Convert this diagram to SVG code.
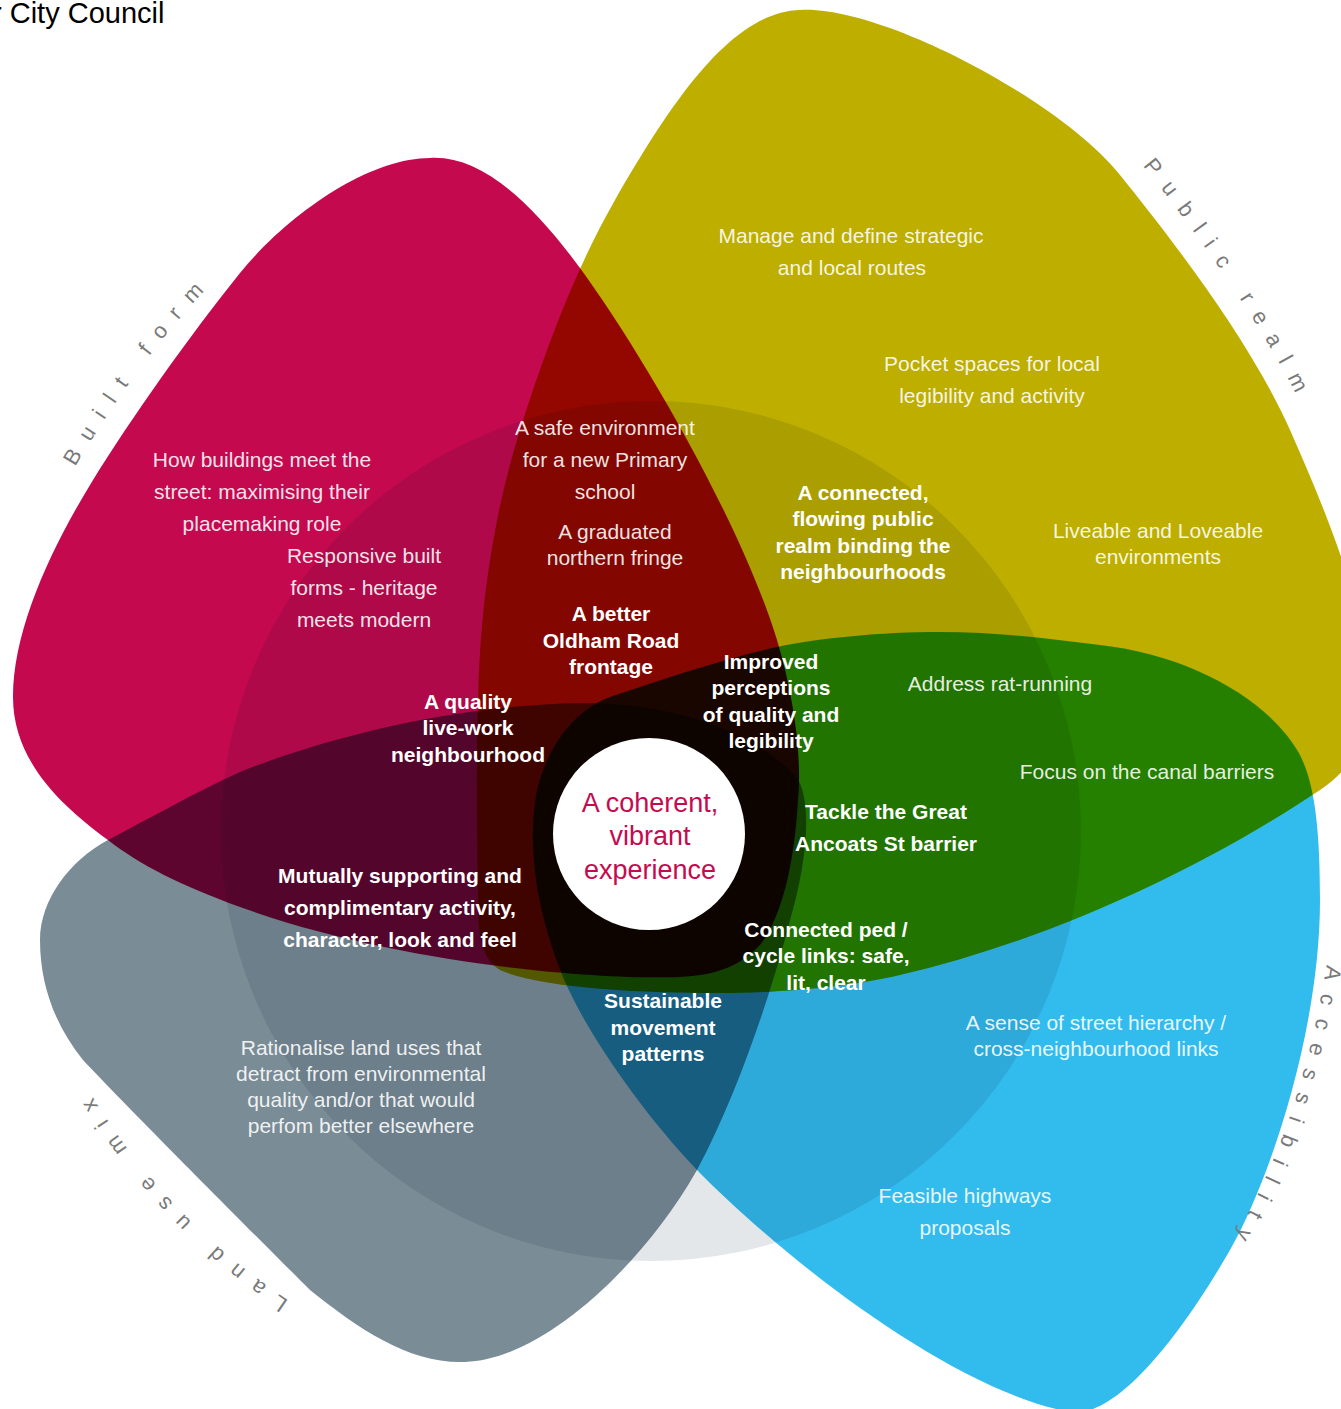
<svg xmlns="http://www.w3.org/2000/svg" width="1341" height="1409" viewBox="0 0 1341 1409">
<style>
.petal{mix-blend-mode:multiply}
.lt{font-family:"Liberation Sans",Arial,sans-serif;font-size:21px;fill:#fff;fill-opacity:0.9;text-anchor:middle}
.bd{font-family:"Liberation Sans",Arial,sans-serif;font-size:21px;font-weight:bold;fill:#fff;text-anchor:middle}
.arc{font-family:"Liberation Sans",Arial,sans-serif;font-size:22px;fill:#7a7a7a;letter-spacing:14px}
.ctr{font-family:"Liberation Sans",Arial,sans-serif;font-size:27px;fill:#C60A50;text-anchor:middle}
</style>
<defs>
<path id="pBuilt" d="M78,462 Q140,358 210,285"/>
<path id="pPublic" d="M1144,167 Q1247,296 1301,404"/>
<path id="pAccess" d="M1326,968 Q1300,1130 1230,1245"/>
<path id="pLand" d="M288,1300 Q165,1219 86,1086"/>
</defs>
<rect width="1341" height="1409" fill="#fff"/>
<g id="shapes" style="isolation:isolate">
<rect width="1341" height="1409" fill="#fff"/>
<g id="built-form">
<path class="petal" fill="#C5094F" d="M430,158 C480,155 530,200 580,268 C640,350 740,520 777,640 C795,700 802,760 798,800 C794,870 780,920 760,945 C740,965 720,975 680,977 C600,980 400,965 240,907 C180,885 140,865 108,840 C60,805 13,760 13,697 C13,630 50,550 93,480 C130,420 190,335 240,273 C290,212 370,158 430,158 Z"/>
</g>
<g id="public-realm">
<path class="petal" fill="#BEAE00" d="M800,10 C880,5 1060,100 1120,175 C1170,237 1250,340 1290,430 C1330,520 1370,620 1370,700 C1370,740 1350,770 1320,790 C1200,870 1050,940 900,975 C850,987 780,993 720,993 C640,993 540,988 500,970 C480,958 478,930 478,900 C477,830 476,760 478,700 C480,600 495,510 520,430 C545,350 575,270 615,200 C670,105 730,12 800,10 Z"/>
</g>
<g id="accessibility">
<path class="petal" fill="#32BCEE" d="M610,697 C575,710 548,745 537,790 C528,835 532,900 563,977 C585,1030 640,1110 697,1170 C780,1255 950,1390 1070,1412 C1120,1420 1190,1320 1230,1250 C1270,1180 1320,1030 1320,900 C1320,830 1315,785 1300,755 C1270,700 1190,655 1100,645 C1050,639 1000,632 940,632 C880,632 820,638 777,647 C730,657 660,680 610,697 Z"/>
</g>
<g id="land-use-mix">
<path class="petal" fill="#7A8C96" d="M40,940 C40,900 70,860 108,840 C150,818 190,795 240,772 C320,740 450,705 580,703 C650,702 740,720 795,775 C815,800 805,870 790,920 C775,980 740,1090 697,1170 C640,1270 540,1360 465,1362 C410,1364 360,1330 310,1290 C250,1230 130,1110 83,1060 C55,1025 40,985 40,940 Z"/>
</g>
<g id="overlay-circle">
<circle class="petal" cx="651" cy="831" r="430" fill="#E4E7EA"/>
</g>
</g>
<g id="connectors"/>
<g id="centre">
<circle cx="649" cy="834" r="96" fill="#fff"/>
<text class="ctr" x="650" y="812">A coherent,</text>
<text class="ctr" x="650" y="845">vibrant</text>
<text class="ctr" x="650" y="879">experience</text>
</g>
<g id="title"><text x="-8" y="23" font-family="Liberation Sans, Arial, sans-serif" font-size="29" fill="#000">r City Council</text></g>
<g id="labels">
<text class="arc"><textPath href="#pBuilt" startOffset="50%" text-anchor="middle">Built form</textPath></text>
<text class="arc"><textPath href="#pPublic" startOffset="50%" text-anchor="middle">Public realm</textPath></text>
<text class="arc"><textPath href="#pAccess" startOffset="50%" text-anchor="middle">Accessibility</textPath></text>
<text class="arc"><textPath href="#pLand" startOffset="50%" text-anchor="middle">Land use mix</textPath></text>
</g>
<g id="n-manage"><text class="lt" x="851" y="243">Manage and define strategic</text><text class="lt" x="852" y="275">and local routes</text></g>
<g id="n-pocket"><text class="lt" x="992" y="371">Pocket spaces for local</text><text class="lt" x="992" y="403">legibility and activity</text></g>
<g id="n-liveable"><text class="lt" x="1158" y="538">Liveable and Loveable</text><text class="lt" x="1158" y="564">environments</text></g>
<g id="n-how"><text class="lt" x="262" y="467">How buildings meet the</text><text class="lt" x="262" y="499">street: maximising their</text><text class="lt" x="262" y="531">placemaking role</text></g>
<g id="n-responsive"><text class="lt" x="364" y="563">Responsive built</text><text class="lt" x="364" y="595">forms - heritage</text><text class="lt" x="364" y="627">meets modern</text></g>
<g id="n-safe"><text class="lt" x="605" y="435">A safe environment</text><text class="lt" x="605" y="467">for a new Primary</text><text class="lt" x="605" y="499">school</text></g>
<g id="n-graduated"><text class="lt" x="615" y="539">A graduated</text><text class="lt" x="615" y="565">northern fringe</text></g>
<g id="n-rat"><text class="lt" x="1000" y="691">Address rat-running</text></g>
<g id="n-canal"><text class="lt" x="1147" y="779">Focus on the canal barriers</text></g>
<g id="n-hierarchy"><text class="lt" x="1096" y="1030">A sense of street hierarchy /</text><text class="lt" x="1096" y="1056">cross-neighbourhood links</text></g>
<g id="n-highways"><text class="lt" x="965" y="1203">Feasible highways</text><text class="lt" x="965" y="1235">proposals</text></g>
<g id="n-rationalise"><text class="lt" x="361" y="1055">Rationalise land uses that</text><text class="lt" x="361" y="1081">detract from environmental</text><text class="lt" x="361" y="1107">quality and/or that would</text><text class="lt" x="361" y="1133">perfom better elsewhere</text></g>
<g id="n-connected"><text class="bd" x="863" y="500">A connected,</text><text class="bd" x="863" y="526">flowing public</text><text class="bd" x="863" y="553">realm binding the</text><text class="bd" x="863" y="579">neighbourhoods</text></g>
<g id="n-oldham"><text class="bd" x="611" y="621">A better</text><text class="bd" x="611" y="648">Oldham Road</text><text class="bd" x="611" y="674">frontage</text></g>
<g id="n-improved"><text class="bd" x="771" y="669">Improved</text><text class="bd" x="771" y="695">perceptions</text><text class="bd" x="771" y="722">of quality and</text><text class="bd" x="771" y="748">legibility</text></g>
<g id="n-livework"><text class="bd" x="468" y="709">A quality</text><text class="bd" x="468" y="735">live-work</text><text class="bd" x="468" y="762">neighbourhood</text></g>
<g id="n-tackle"><text class="bd" x="886" y="819">Tackle the Great</text><text class="bd" x="886" y="851">Ancoats St barrier</text></g>
<g id="n-mutually"><text class="bd" x="400" y="883">Mutually supporting and</text><text class="bd" x="400" y="915">complimentary activity,</text><text class="bd" x="400" y="947">character, look and feel</text></g>
<g id="n-pedcycle"><text class="bd" x="826" y="937">Connected ped /</text><text class="bd" x="826" y="963">cycle links: safe,</text><text class="bd" x="826" y="990">lit, clear</text></g>
<g id="n-sustainable"><text class="bd" x="663" y="1008">Sustainable</text><text class="bd" x="663" y="1035">movement</text><text class="bd" x="663" y="1061">patterns</text></g>
</svg>
